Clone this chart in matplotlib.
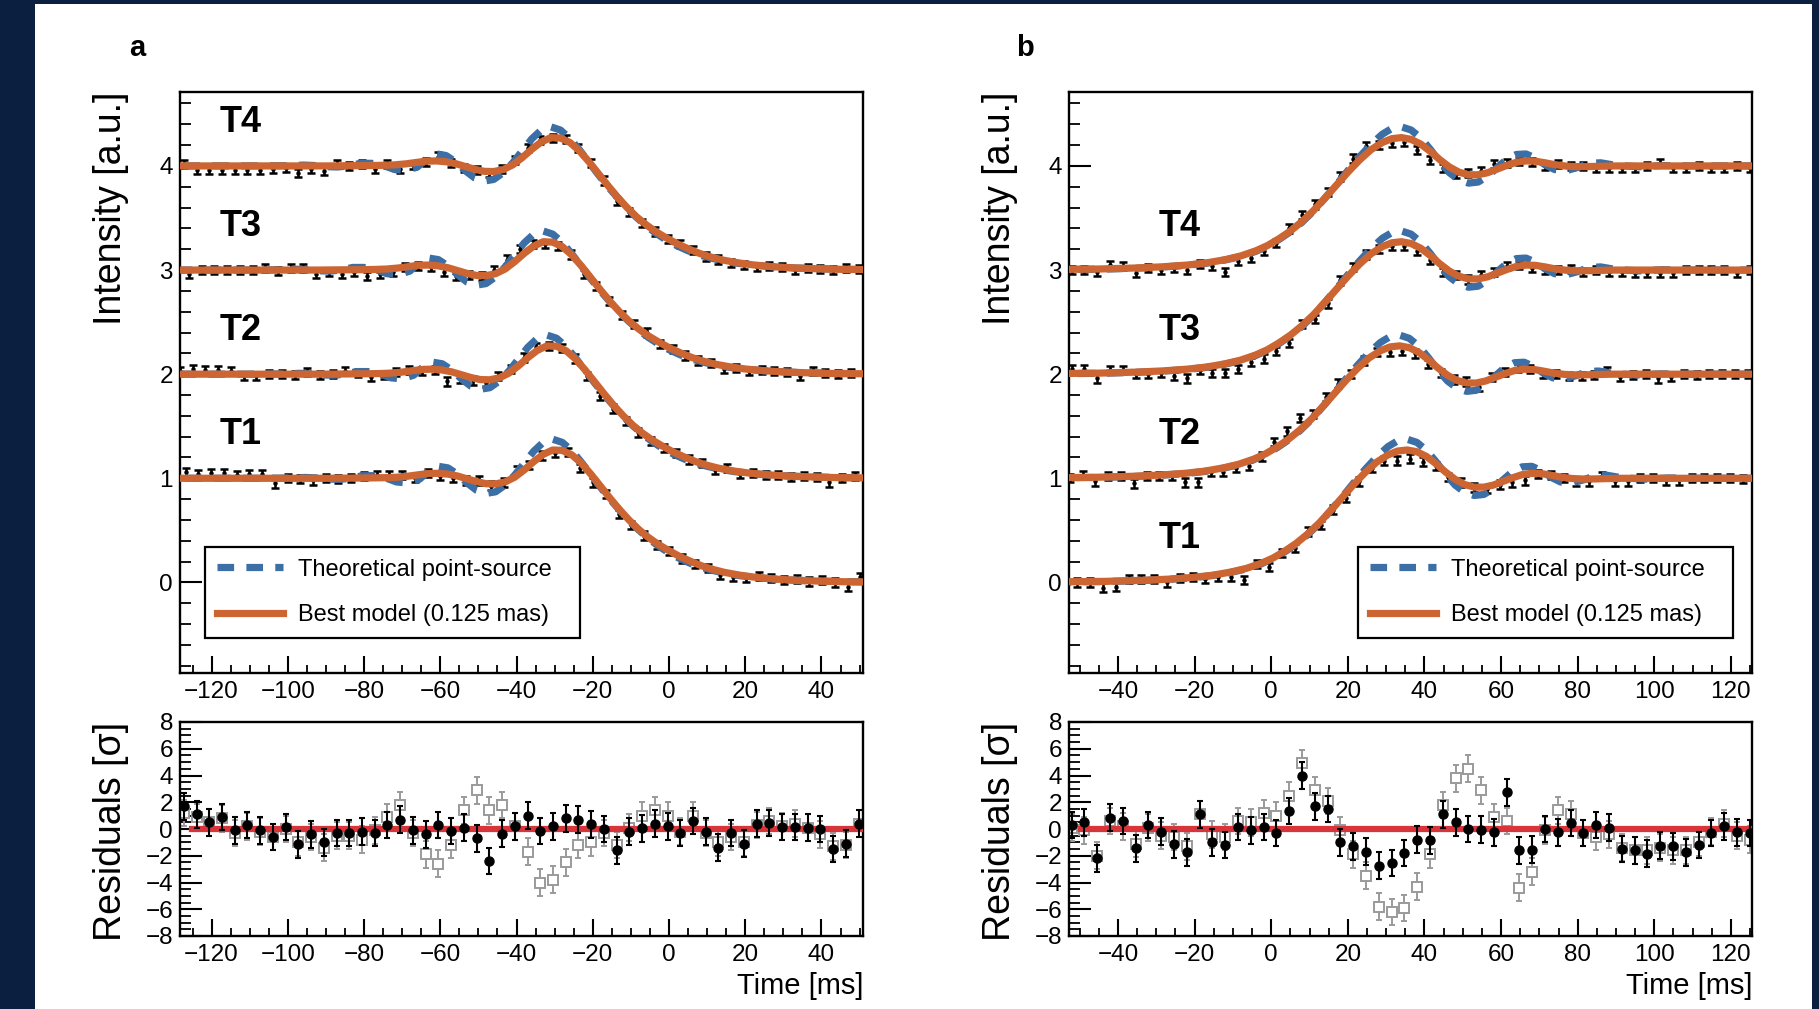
import numpy as np
import matplotlib
matplotlib.use("Agg")
import matplotlib.pyplot as plt
from matplotlib.ticker import MultipleLocator

plt.rcParams['font.family'] = ['Liberation Sans', 'DejaVu Sans']
plt.rcParams['axes.unicode_minus'] = True

NAVY = '#0b1f40'
ORANGE = '#cd6532'
BLUE = '#3b6fa6'
RED = '#d8353b'
GRAY = '#9a9a9a'

telescopes = ['T1', 'T2', 'T3', 'T4']
offsets = [0, 1, 2, 3]

# ---------------- panel a: disappearance ----------------
t_model_a = [-135, -110, -100, -96, -93, -90, -87, -84, -81, -78, -75, -72, -69, -66,
             -63.5, -61, -58.5, -56, -53.5, -51, -48.5, -46, -43.5, -41, -38.5, -36,
             -33.5, -31, -28.5, -26, -23.5, -21, -18.5, -16, -13.5, -11, -8.5, -6,
             -3.5, -1, 2, 5, 8, 11, 14, 18, 22, 27, 33, 40, 46, 56]
best_a = [1.000, 1.000, 1.000, 1.000, 1.000, 1.000, 1.001, 1.002, 1.003, 1.004, 1.006,
          1.010, 1.020, 1.035, 1.046, 1.048, 1.040, 1.022, 0.995, 0.968, 0.948, 0.946,
          0.965, 1.010, 1.080, 1.160, 1.230, 1.272, 1.268, 1.225, 1.145, 1.040, 0.925,
          0.810, 0.700, 0.600, 0.510, 0.435, 0.370, 0.315, 0.255, 0.205, 0.160, 0.125,
          0.097, 0.070, 0.050, 0.033, 0.020, 0.011, 0.006, 0.003]
theo_a = [1.000, 1.000, 1.002, 1.008, 1.004, 0.993, 0.990, 1.000, 1.025, 1.025, 1.005,
          0.965, 0.955, 0.990, 1.070, 1.115, 1.100, 1.040, 0.955, 0.885, 0.855, 0.870,
          0.935, 1.030, 1.145, 1.260, 1.345, 1.375, 1.345, 1.265, 1.155, 1.035, 0.915,
          0.800, 0.695, 0.595, 0.505, 0.425, 0.355, 0.295, 0.235, 0.185, 0.145, 0.115,
          0.090, 0.065, 0.048, 0.032, 0.020, 0.012, 0.007, 0.004]
# per-telescope timing offset of the occultation (ms)
shift_a = [0.5, -1.0, -2.0, 0.0]

# binned light curves: first bin time per telescope and bin width (ms)
start_a = [-126.8, -128.3, -129.3, -127.3]
bin_ms = 3.34
T1_a = [1.06, 1.04, 1.05, 1.05, 1.03, 1.04, 1.04, 0.95, 1.00, 0.99, 0.98, 1.00, 0.99, 1.00,
        1.02, 1.03, 1.03, 1.03, 1.00, 1.05, 1.02, 1.00, 0.98, 0.98, 0.93, 0.96, 1.08, 1.13,
        1.22, 1.24, 1.25, 1.10, 0.96, 0.85, 0.66, 0.55, 0.45, 0.36, 0.30, 0.23, 0.18, 0.14,
        0.07, 0.05, 0.04, 0.06, 0.04, 0.02, 0.03, 0.01, 0.02, 0.00, -0.04, 0.05]
T2_a = [1.03, 1.05, 1.04, 1.04, 1.03, 0.98, 0.98, 1.00, 1.00, 0.99, 1.02, 0.99, 1.00, 1.03,
        1.01, 0.97, 0.99, 1.02, 1.04, 1.03, 1.04, 0.93, 0.96, 0.94, 0.92, 0.98, 1.05, 1.16,
        1.26, 1.27, 1.25, 1.15, 0.98, 0.79, 0.67, 0.55, 0.44, 0.36, 0.29, 0.24, 0.18, 0.15,
        0.08, 0.10, 0.04, 0.05, 0.03, 0.03, 0.01, 0.02, 0.01, -0.04, 0.00, 0.02]
T3_a = [1.03, 0.96, 1.00, 1.00, 1.00, 1.00, 1.00, 1.02, 0.99, 1.02, 1.02, 0.96, 0.98, 0.96,
        0.98, 0.94, 0.96, 0.98, 1.03, 1.04, 1.03, 0.98, 0.94, 0.95, 0.94, 1.00, 1.10, 1.20,
        1.25, 1.25, 1.23, 1.15, 0.96, 0.85, 0.70, 0.57, 0.48, 0.40, 0.29, 0.24, 0.18, 0.13,
        0.11, 0.05, 0.06, 0.03, 0.04, 0.03, 0.02, -0.02, 0.03, 0.01, 0.00, 0.01]
T4_a = [1.02, 0.96, 0.96, 0.96, 0.96, 0.96, 0.96, 0.97, 0.98, 0.93, 0.97, 0.95, 1.02, 1.00,
        1.02, 0.97, 1.02, 0.97, 1.01, 1.04, 1.09, 1.03, 0.98, 0.96, 0.93, 0.97, 1.06, 1.17,
        1.25, 1.27, 1.26, 1.17, 1.03, 0.86, 0.66, 0.56, 0.45, 0.37, 0.30, 0.25, 0.19, 0.13,
        0.10, 0.07, 0.05, 0.03, 0.04, 0.03, 0.00, 0.02, 0.01, 0.00, 0.02, 0.01]

# residuals in units of sigma
res_start_a = -127.3
res_best_a = [1.7, 1.1, 0.5, 0.9, -0.1, 0.3, -0.1, -0.6, 0.15, -1.15, -0.4, -1.0, -0.3, -0.3,
              -0.2, -0.3, 0.3, 0.7, -0.1, -0.4, 0.3, -0.15, 0.1, -0.7, -2.4, -0.35, 0.2, 1.0,
              -0.15, 0.2, 0.8, 0.7, 0.35, 0.0, -1.6, -0.2, 0.05, 0.4, 0.2, -0.3, 0.6, -0.2,
              -1.4, -0.3, -1.1, 0.4, 0.45, 0.15, 0.15, 0.1, 0.0, -1.5, -1.1, 0.4]
res_theo_a = [1.2, 0.9, 0.5, 0.8, -0.3, 0.2, -0.2, -0.6, 0.0, -1.0, -0.6, -1.4, -0.5, -0.5,
              -0.8, -0.1, 0.9, 1.8, -0.3, -1.9, -2.6, -1.2, 1.4, 2.9, 1.4, 1.8, 0.2, -1.7,
              -4.0, -3.8, -2.5, -1.2, -1.0, -0.3, -1.2, 0.1, 1.0, 1.4, 1.0, -0.2, 1.0, -0.3,
              -1.0, -0.6, -1.0, 0.3, 0.6, 0.2, 0.4, 0.1, -0.4, -1.3, -1.2, 0.4]

# ---------------- panel b: reappearance ----------------
t_model_b = [-58, -45, -35, -28, -22, -17, -12, -8, -4, -1, 2, 5, 8, 11, 14, 17, 20, 23, 26,
             29, 31.5, 34, 36.5, 39, 41.5, 44, 46.5, 49, 51.5, 54, 56.5, 59, 61.5, 64, 66.5,
             69, 71.5, 74, 77, 80, 83, 86, 90, 96, 102, 110, 130]
best_b = [0.005, 0.010, 0.020, 0.032, 0.048, 0.068, 0.100, 0.135, 0.185, 0.235, 0.300,
          0.375, 0.465, 0.570, 0.690, 0.815, 0.940, 1.055, 1.155, 1.225, 1.262, 1.272,
          1.255, 1.210, 1.140, 1.060, 0.990, 0.940, 0.915, 0.915, 0.935, 0.970, 1.005,
          1.035, 1.048, 1.045, 1.030, 1.012, 0.998, 0.993, 0.994, 0.997, 1.000, 1.000,
          1.000, 1.000, 1.000]
theo_b = [0.004, 0.008, 0.018, 0.030, 0.045, 0.065, 0.097, 0.130, 0.180, 0.230, 0.293,
          0.368, 0.458, 0.565, 0.690, 0.820, 0.955, 1.085, 1.205, 1.305, 1.360, 1.375,
          1.345, 1.270, 1.160, 1.040, 0.935, 0.865, 0.835, 0.845, 0.900, 0.985, 1.065,
          1.110, 1.115, 1.075, 1.010, 0.965, 0.955, 0.985, 1.025, 1.030, 1.005, 0.992,
          1.003, 1.000, 1.000]
shift_b = [1.5, -0.5, 0.0, 0.0]

start_b = [-50.6, -52.6, -52.1, -52.1]
T1_b = [0.00, 0.00, -0.05, -0.04, 0.03, 0.03, 0.03, 0.00, 0.04, 0.05, 0.03, 0.05, 0.05, 0.02,
        0.18, 0.15, 0.28, 0.33, 0.49, 0.55, 0.70, 0.81, 0.97, 1.10, 1.17, 1.17, 1.19, 1.16,
        1.12, 1.01, 0.96, 0.91, 0.90, 0.94, 0.96, 0.98, 1.04, 1.03, 1.00, 0.97, 0.97, 1.02,
        0.97, 0.97, 1.00, 1.00, 0.98, 0.98, 1.00, 1.00, 1.00, 1.00, 0.99, 1.00]
T2_b = [0.00, 0.03, -0.03, 0.02, 0.02, -0.05, 0.02, 0.02, 0.02, -0.04, -0.04, 0.06, 0.06,
        0.10, 0.12, 0.21, 0.35, 0.45, 0.58, 0.62, 0.78, 0.91, 1.00, 1.13, 1.21, 1.21, 1.22,
        1.20, 1.10, 1.01, 0.95, 0.93, 0.88, 0.97, 1.02, 1.06, 1.05, 1.00, 1.00, 0.98, 0.98,
        0.99, 1.03, 0.97, 0.99, 1.00, 0.96, 0.97, 1.00, 0.99, 1.00, 1.00, 1.00, 1.00]
T3_b = [0.05, 0.05, -0.04, 0.04, 0.04, 0.00, 0.00, 0.01, -0.02, -0.04, 0.04, 0.01, 0.01, 0.05,
        0.12, 0.15, 0.22, 0.30, 0.48, 0.53, 0.68, 0.90, 1.03, 1.15, 1.20, 1.23, 1.23, 1.18,
        1.10, 0.98, 0.95, 0.91, 0.95, 0.98, 1.04, 1.05, 1.02, 1.00, 1.00, 1.01, 0.98, 1.00,
        0.98, 0.98, 0.97, 0.97, 0.97, 0.97, 1.00, 1.00, 1.00, 1.00, 0.97, 1.00]
T4_b = [0.00, 0.00, -0.02, 0.05, 0.04, -0.03, 0.02, 0.00, 0.02, 0.00, 0.06, 0.04, -0.02, 0.09,
        0.12, 0.18, 0.26, 0.40, 0.53, 0.63, 0.75, 0.90, 1.07, 1.19, 1.20, 1.22, 1.23, 1.15,
        1.06, 0.98, 0.92, 0.93, 0.95, 1.02, 1.03, 1.05, 1.04, 1.00, 1.02, 1.00, 1.00, 0.98,
        0.98, 0.98, 0.98, 1.00, 1.03, 0.98, 0.98, 1.00, 0.98, 0.98, 1.00, 0.98]

res_start_b = -52.1
res_best_b = [0.3, 0.5, -2.2, 0.85, 0.6, -1.45, 0.3, -0.2, -1.15, -1.75, 1.1, -1.0, -1.2, 0.15,
              -0.1, 0.15, -0.3, 1.35, 4.0, 1.7, 1.5, -1.0, -1.3, -1.7, -2.75, -2.55, -1.8,
              -0.8, -0.85, 1.1, 0.5, 0.0, -0.05, -0.25, 2.75, -1.6, -1.55, 0.0, -0.25, 0.45,
              -0.3, 0.3, 0.1, -1.5, -1.6, -1.85, -1.25, -1.3, -1.75, -1.2, -0.3, 0.2, -0.25, -0.3]
res_theo_b = [0.1, -0.1, -2.0, 0.6, 0.2, -1.1, 0.1, -0.5, -0.6, -1.3, 1.1, -0.4, -0.6, 0.6,
              0.5, 1.2, 1.0, 2.5, 4.9, 2.9, 2.1, -0.1, -1.9, -3.5, -5.8, -6.2, -5.9, -4.3,
              -1.9, 1.8, 3.8, 4.5, 2.9, 0.9, 0.6, -4.4, -3.2, -0.1, 1.4, 1.1, -0.3, -0.6,
              -0.4, -1.4, -1.6, -1.6, -1.4, -1.6, -1.6, -1.0, -0.2, 0.4, -0.5, -0.8]

int_err = 0.04
res_err = 1.0

# ---------------- figure ----------------
W, H = 1819, 1009
fig = plt.figure(figsize=(W / 100, H / 100), dpi=100, facecolor=NAVY)
fig.patches.append(plt.Rectangle((35 / W, 0), (1812 - 35) / W, 1 - 4 / H,
                                 transform=fig.transFigure, facecolor='white',
                                 edgecolor='none', zorder=-10))

TICK_FS = 17.5


def px_axes(x0, y0, x1, y1):
    a = fig.add_axes([x0 / W, 1 - y1 / H, (x1 - x0) / W, (y1 - y0) / H])
    a.set_zorder(1)
    return a


def style_axes(ax, xmaj, xmin, ymaj, ymin, ylen):
    for s in ax.spines.values():
        s.set_linewidth(1.7)
    ax.xaxis.set_major_locator(MultipleLocator(xmaj))
    ax.xaxis.set_minor_locator(MultipleLocator(xmin))
    ax.yaxis.set_major_locator(MultipleLocator(ymaj))
    ax.yaxis.set_minor_locator(MultipleLocator(ymin))
    ax.tick_params(axis='x', which='major', direction='in', length=12, width=1.5,
                   labelsize=TICK_FS, pad=6, top=False)
    ax.tick_params(axis='x', which='minor', direction='in', length=6, width=1.3, top=False)
    ax.tick_params(axis='y', which='major', direction='in', length=ylen[0], width=1.5,
                   labelsize=TICK_FS, pad=5, right=False)
    ax.tick_params(axis='y', which='minor', direction='in', length=ylen[1], width=1.3,
                   right=False)


panels = [
    dict(letter='a', x0=180, x1=863, xlim=(-128.3, 50.9), tm=t_model_a, best=best_a,
         theo=theo_a, shift=shift_a, start=start_a, data=[T1_a, T2_a, T3_a, T4_a],
         rs=res_start_a, rb=res_best_a, rt=res_theo_a, lab_x=-118.0,
         lab_y=[1.42, 2.42, 3.42, 4.42], leg_x=205, letter_x=137),
    dict(letter='b', x0=1069, x1=1752, xlim=(-52.8, 125.5), tm=t_model_b, best=best_b,
         theo=theo_b, shift=shift_b, start=start_b, data=[T1_b, T2_b, T3_b, T4_b],
         rs=res_start_b, rb=res_best_b, rt=res_theo_b, lab_x=-29.5,
         lab_y=[0.42, 1.42, 2.42, 3.42], leg_x=1358, letter_x=1025),
]

for p in panels:
    ax = px_axes(p['x0'], 92, p['x1'], 673)
    ax.set_xlim(*p['xlim'])
    ax.set_ylim(-0.87, 4.71)
    style_axes(ax, 20, 5, 1, 0.2, (16, 8))

    tm = np.array(p['tm'])
    for i, name in enumerate(telescopes):
        off = offsets[i]
        sh = p['shift'][i]
        vals = np.array(p['data'][i]) + off
        tt = p['start'][i] + bin_ms * np.arange(len(vals))
        ax.errorbar(tt, vals, yerr=int_err, fmt='o', ms=2.2, color='black',
                    elinewidth=1.8, capsize=2.6, capthick=1.8, zorder=1)
        ax.plot(tm + sh, np.array(p['theo']) + off, color=BLUE, lw=5.2,
                dashes=(2.3, 1.7), dash_capstyle='butt', zorder=2,
                label='Theoretical point-source' if i == 0 else None)
        ax.plot(tm + sh, np.array(p['best']) + off, color=ORANGE, lw=5.2,
                solid_joinstyle='round', zorder=3,
                label='Best model (0.125 mas)' if i == 0 else None)
        ax.text(p['lab_x'], p['lab_y'][i], name, fontsize=26, fontweight='bold',
                ha='left', va='center', zorder=5)

    leg_w = (580 - 205) / (p['x1'] - p['x0'])
    x_anchor = (p['leg_x'] - p['x0']) / (p['x1'] - p['x0'])
    leg = ax.legend(loc='lower left', bbox_to_anchor=(x_anchor, (673 - 638) / 581, leg_w, 0.1),
                    mode='expand', fontsize=17, frameon=True, fancybox=False,
                    edgecolor='black', framealpha=1, handlelength=2.8, handletextpad=0.65,
                    labelspacing=1.0, borderpad=0.5, borderaxespad=0)
    leg.get_frame().set_linewidth(1.6)
    leg.set_zorder(6)
    ax.set_ylabel('Intensity [a.u.]', fontsize=27)
    ax.yaxis.set_label_coords(-0.075, 1.0)
    ax.yaxis.label.set_horizontalalignment('right')

    fig.text(p['letter_x'] / W, 1 - 48 / H, p['letter'], fontsize=21, fontweight='bold',
             ha='center', va='center')

    # residual panel
    rx = p['rs'] + bin_ms * np.arange(len(p['rb']))
    axr = px_axes(p['x0'], 722, p['x1'], 936)
    axr.set_xlim(*p['xlim'])
    axr.set_ylim(-8, 8)
    style_axes(axr, 20, 5, 2, 0.5, (16, 8))
    axr.errorbar(rx, p['rt'], yerr=res_err, fmt='s', ms=7, mfc='white', mec=GRAY,
                 mew=1.4, color=GRAY, elinewidth=1.4, capsize=2.2, capthick=1.4, zorder=2)
    axr.axhline(0, xmin=0.018, color=RED, lw=4.5, zorder=3)
    axr.errorbar(rx, p['rb'], yerr=res_err, fmt='o', ms=6.5, color='black',
                 elinewidth=1.5, capsize=2.2, capthick=1.5, zorder=4)
    axr.set_ylabel('Residuals [σ]', fontsize=27)
    axr.yaxis.set_label_coords(-0.075, 1.0)
    axr.yaxis.label.set_horizontalalignment('right')
    axr.set_xlabel('Time [ms]', fontsize=21)
    axr.xaxis.set_label_coords(1.0, -0.17)
    axr.xaxis.label.set_horizontalalignment('right')

fig.savefig('out.png', dpi=100, facecolor=NAVY)
